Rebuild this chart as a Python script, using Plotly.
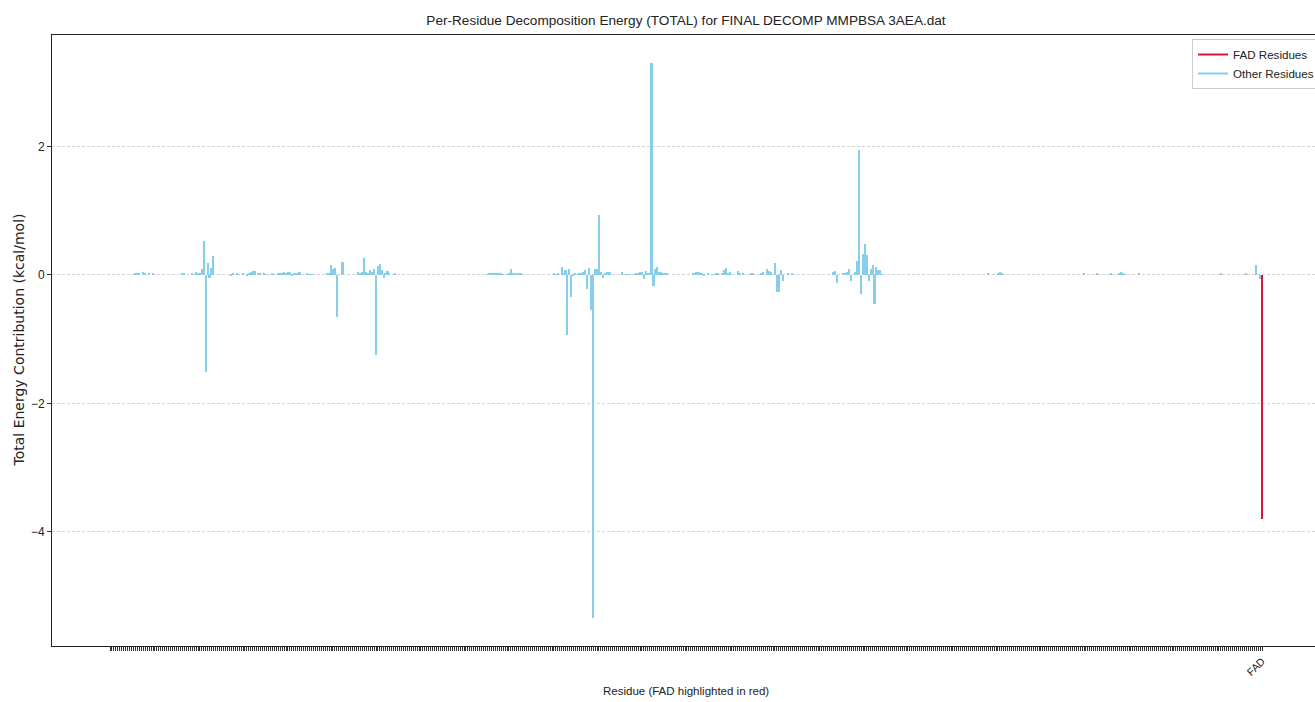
import plotly.graph_objects as go

# ---------------- data ----------------
n_protein = 589  # protein residues before the FAD ligand
protein_idx = [
    13, 14, 15, 17, 18, 20, 22,
    37, 38, 42, 44, 45, 46, 47, 48, 49, 50, 51, 52, 53,
    62, 63, 65, 66, 68, 70, 71, 72, 73, 74, 76, 77, 79, 80, 83, 84, 86, 87, 88, 89,
    90, 91, 92, 93, 94, 95, 96, 97, 101, 102, 103, 104,
    111, 112, 113, 114, 115, 116, 119,
    127, 128, 129, 130, 131, 132, 133, 134, 135, 136, 137, 138, 139, 140, 141, 142, 143, 146,
    193, 194, 195, 196, 197, 198, 199, 200, 201, 203, 204, 205, 206, 207, 208, 209, 210,
    227, 228, 229, 231, 232, 233, 234, 235, 236, 237, 238, 239, 240, 241, 242, 243, 244,
    245, 246, 247, 248, 249, 250, 251, 252, 253, 254, 255, 256,
    262, 264, 265, 266, 268, 269, 270, 271, 272, 273, 274, 275, 276, 277, 278, 279, 280,
    281, 282, 283, 284, 285,
    298, 299, 300, 301, 302, 303, 304, 306, 308, 310, 311, 313, 314, 315, 316, 317, 321,
    322, 324, 328, 329, 333, 334, 336, 337, 338, 340, 341, 342, 343, 344, 347, 349,
    370, 371, 372, 375, 376, 377, 378, 379, 381, 382, 383, 384, 385, 386, 387, 388, 389,
    390, 391, 392, 393, 394, 395,
    449, 454, 455, 456, 498, 505, 512, 516, 517, 518, 519, 526, 568, 581, 586, 588,
]
protein_val = [
    0.02, 0.03, 0.03, 0.04, 0.03, 0.02, 0.02,
    0.02, 0.02, 0.02, 0.04, 0.03, 0.02, 0.09, 0.53, -1.51, 0.18, -0.04, 0.11, 0.30,
    -0.02, 0.02, 0.02, 0.01, 0.02, -0.02, 0.02, 0.05, 0.06, 0.06, 0.02, 0.02, 0.03, 0.01, 0.02, 0.01, 0.03, 0.02, 0.03, 0.04,
    0.02, 0.04, 0.04, -0.02, 0.02, 0.03, 0.03, 0.05, 0.02, 0.01, 0.01, 0.01,
    0.03, 0.02, 0.15, 0.10, 0.11, -0.66, 0.21,
    0.04, 0.03, 0.05, 0.26, 0.05, 0.03, 0.07, 0.05, 0.09, -1.24, 0.14, 0.17, 0.08, -0.05, 0.03, 0.06, 0.03, 0.02,
    0.01, 0.02, 0.02, 0.03, 0.03, 0.02, 0.03, 0.02, 0.01, 0.01, 0.03, 0.09, 0.03, 0.02, 0.01, 0.02, 0.03,
    0.02, 0.01, 0.03, 0.13, 0.02, 0.07, -0.93, 0.09, -0.35, -0.02, 0.02, 0.01, 0.02, 0.03, 0.04, 0.08, -0.22,
    0.11, -0.55, -5.34, 0.09, 0.09, 0.94, 0.05, -0.04, 0.03, 0.05, 0.04, 0.05,
    0.05, 0.01, 0.01, 0.01, 0.01, 0.02, 0.02, 0.05, 0.05, -0.06, 0.06, 0.03, 0.03, 3.30, -0.17, 0.09, 0.13,
    0.05, 0.04, 0.03, 0.02, 0.02,
    0.02, 0.03, 0.04, 0.04, 0.02, 0.02, -0.01, 0.03, 0.01, 0.03, 0.03, 0.02, 0.08, 0.11, 0.03, 0.05, 0.06,
    0.02, 0.02, 0.02, 0.03, 0.02, 0.04, 0.10, 0.06, 0.05, 0.18, -0.27, -0.27, 0.08, -0.09, 0.02, 0.02,
    0.04, 0.06, -0.12, 0.03, 0.02, 0.04, 0.10, -0.10, 0.04, 0.22, 1.95, -0.30, 0.33, 0.48, 0.31, -0.09, 0.09,
    0.15, -0.45, 0.13, 0.07, 0.07, 0.01,
    0.02, 0.03, 0.04, 0.02, 0.02, 0.02, 0.02, 0.03, 0.05, 0.03, 0.01, 0.02, 0.02, 0.02, 0.15, -0.06,
]
fad_label = "FAD"
fad_value = -3.80

y_tickvals = [2, 0, -2, -4]

# ---------------- build ----------------
protein_energy = [0.0] * n_protein
for i, v in zip(protein_idx, protein_val):
    protein_energy[i] = v
protein_x = list(range(n_protein))
fad_x = n_protein
tick_vals = protein_x + [fad_x]
tick_text = [""] * n_protein + [fad_label]

SKY = "#87CEEB"
CRIMSON = "#DC143C"
FONT = "Liberation Sans, Arial, sans-serif"

W, H = 1315, 702
L, R, T, B = 52, 0, 35, 56
PW = W - L - R
PH = H - T - B

fig = go.Figure()
fig.add_trace(go.Bar(x=protein_x, y=protein_energy, width=0.8,
                     marker=dict(color=SKY, line=dict(width=0)), showlegend=False))
fig.add_trace(go.Bar(x=[fad_x], y=[fad_value], width=0.8,
                     marker=dict(color=CRIMSON, line=dict(width=0)), showlegend=False))
# legend handles (lines)
fig.add_trace(go.Scatter(x=[None], y=[None], mode="lines", line=dict(color=CRIMSON, width=2),
                         name="FAD Residues"))
fig.add_trace(go.Scatter(x=[None], y=[None], mode="lines", line=dict(color=SKY, width=2),
                         name="Other Residues"))

fig.update_layout(
    width=W, height=H,
    margin=dict(l=L, r=R, t=T, b=B, pad=0, autoexpand=False),
    paper_bgcolor="white", plot_bgcolor="white",
    font=dict(family=FONT, size=12, color="#222"),
    title=dict(text="Per-Residue Decomposition Energy (TOTAL) for FINAL DECOMP MMPBSA 3AEA.dat",
               x=(686 - L) / PW, xref="paper", xanchor="center",
               y=1 - 20 / H, yref="container", yanchor="middle",
               font=dict(family=FONT, size=13.6, color="#222")),
    showlegend=True,
    legend=dict(x=(1192 - L) / PW, y=(646 - 39) / PH, xanchor="left", yanchor="top",
                bordercolor="#cccccc", borderwidth=1, bgcolor="rgba(255,255,255,0.8)",
                font=dict(family=FONT, size=11.6, color="#222"), itemwidth=30,
                tracegroupgap=0),
    bargap=0,
)
pitch = (1262 - 110) / n_protein
fig.update_xaxes(
    range=[(L - 110) / pitch, (W - 110) / pitch],
    tickmode="array", tickvals=tick_vals, ticktext=tick_text,
    tickangle=-45, ticks="outside", ticklen=4, tickwidth=0.8, tickcolor="#333",
    tickfont=dict(family=FONT, size=10.5, color="#222"),
    showgrid=False, zeroline=False,
    showline=True, linecolor="#222", linewidth=1, mirror=True,
)
fig.update_yaxes(
    range=[-5.779, 3.738],
    tickmode="array", tickvals=y_tickvals,
    ticks="outside", ticklen=4, tickwidth=0.8, tickcolor="#333",
    tickfont=dict(family=FONT, size=12, color="#222"),
    showgrid=True, gridcolor="#d3d3d3", gridwidth=0.8, griddash="3px,2px",
    zeroline=False,
    showline=True, linecolor="#222", linewidth=1,
)
fig.add_annotation(text="Residue (FAD highlighted in red)", xref="paper", yref="paper",
                   x=(686 - L) / PW, y=-(691 - 646) / PH,
                   xanchor="center", yanchor="middle", showarrow=False,
                   font=dict(family=FONT, size=11.5, color="#222"))
fig.add_annotation(text="Total Energy Contribution (kcal/mol)", xref="paper", yref="paper",
                   x=-(L - 18) / PW, y=0.5, textangle=-90,
                   xanchor="center", yanchor="middle", showarrow=False,
                   font=dict(family="DejaVu Sans", size=14, color="#222"))

fig.write_html("out.html")
